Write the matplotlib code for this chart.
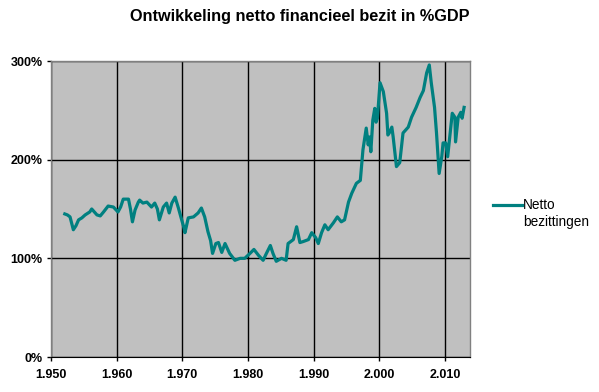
import matplotlib
matplotlib.use("Agg")
import matplotlib.pyplot as plt
from matplotlib.lines import Line2D

plt.rcParams['font.family'] = ['Liberation Sans', 'DejaVu Sans']

years = [1952.1, 1952.5, 1952.9, 1953.4, 1953.8, 1954.2, 1954.7, 1955.2, 1955.9, 1956.2, 1957.0, 1957.5,
         1958.0, 1958.7, 1959.5, 1960.2, 1960.6, 1961.0, 1961.8, 1962.1, 1962.4, 1962.8, 1963.3, 1963.5,
         1964.0, 1964.6, 1965.3, 1965.8, 1966.2, 1966.5, 1967.1, 1967.6, 1968.0, 1968.4, 1968.9,
         1969.4, 1969.9, 1970.2, 1970.4, 1970.9, 1971.7, 1972.4, 1972.9, 1973.4, 1973.9, 1974.3, 1974.6,
         1975.1, 1975.5, 1976.0, 1976.5, 1977.2, 1978.0, 1978.8, 1979.5, 1980.3, 1980.9,
         1981.6, 1982.3, 1982.8, 1983.4, 1983.8, 1984.3, 1985.1, 1985.8, 1986.1, 1986.9,
         1987.4, 1987.9, 1988.4, 1989.2, 1989.7, 1990.3, 1990.7, 1991.2, 1991.7, 1992.2,
         1993.0, 1993.6, 1994.2, 1994.7, 1995.3, 1995.8, 1996.5, 1997.1, 1997.5, 1998.0,
         1998.3, 1998.5, 1998.7, 1999.0, 1999.3, 1999.5, 1999.7, 2000.1, 2000.6, 2001.1, 2001.3, 2001.5, 2001.9,
         2002.1, 2002.6, 2003.1, 2003.6, 2004.4, 2004.9, 2005.6, 2006.2, 2006.7, 2007.2,
         2007.6, 2007.9, 2008.4, 2008.7, 2009.1, 2009.5, 2009.7, 2010.1, 2010.4, 2010.7,
         2011.1, 2011.5, 2011.6, 2012.0, 2012.4, 2012.6, 2012.9]
netto = [145, 144, 142, 129, 133, 139, 141, 144, 147, 150, 144, 143,
         147, 153, 152, 147, 152, 160, 160, 150, 137, 149, 157, 159,
         156, 157, 152, 156, 150, 139, 152, 156, 146, 156, 162,
         151, 139, 132, 126, 141, 142, 146, 151, 142, 127, 118, 105,
         115, 116, 106, 115, 105, 98, 100, 100, 105, 109,
         103, 98, 105, 113, 105, 97, 100, 98, 115, 119,
         132, 116, 117, 119, 126, 121, 115, 126, 134, 129,
         136, 142, 137, 139, 157, 166, 176, 179, 210, 232,
         215, 223, 208, 240, 252, 238, 242, 278, 269, 247, 225, 227, 233,
         223, 193, 197, 227, 233, 243, 253, 263, 270, 288,
         296, 278, 253, 227, 186, 203, 217, 217, 203, 222,
         247, 243, 218, 243, 248, 242, 253]

xticks = [1950, 1960, 1970, 1980, 1990, 2000, 2010]
xtick_labels = ["1.950", "1.960", "1.970", "1.980", "1.990", "2.000", "2.010"]
yticks = [0, 100, 200, 300]
ytick_labels = ["0%", "100%", "200%", "300%"]
series_name = 'Netto\nbezittingen'

fig = plt.figure(figsize=(5.99, 3.92), dpi=100)
ax = fig.add_axes([51/599, 1-357/392, (470-51)/599, (357-61)/392])
ax.set_facecolor('#c0c0c0')
line, = ax.plot(years, netto, color='#008080', lw=2.3, label=series_name)
ax.set_xlim(1950, 2013.8)
ax.set_ylim(0, 300)
ax.set_xticks(xticks)
ax.set_xticklabels(xtick_labels, fontsize=9, fontweight='bold')
ax.set_yticks(yticks)
ax.set_yticklabels(ytick_labels, fontsize=9, fontweight='bold')
ax.grid(True, color='black', lw=1.0)
ax.set_axisbelow(True)
for s in ['top', 'right', 'left']:
    ax.spines[s].set_color('#808080')
    ax.spines[s].set_linewidth(1.0)
ax.spines['bottom'].set_color('black')
ax.tick_params(axis='both', direction='out', length=3, width=1, color='black')
ax.tick_params(axis='x', pad=6)
ax.tick_params(axis='y', pad=3)

fig.text(0.5, 1-17/392, 'Ontwikkeling netto financieel bezit in %GDP', ha='center', va='center',
         fontsize=11.7, fontweight='bold')
# legend
fig.lines.append(Line2D([493/599, 522/599], [1-205/392, 1-205/392], transform=fig.transFigure,
                        color='#008080', lw=2.3))
fig.text(523/599, 1-205/392, 'Netto', ha='left', va='center', fontsize=9.8)
fig.text(523/599, 1-222/392, 'bezittingen', ha='left', va='center', fontsize=9.8)
fig.savefig('out.png', dpi=100)
